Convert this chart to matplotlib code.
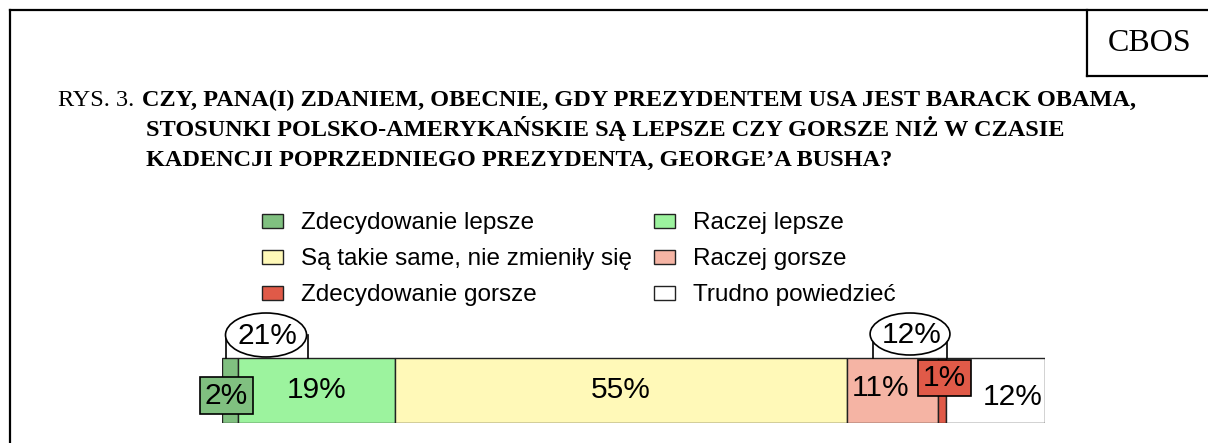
import matplotlib
matplotlib.use("Agg")
import matplotlib.pyplot as plt
from matplotlib.patches import Ellipse
from matplotlib.lines import Line2D
import numpy as np

W, H = 1208, 443
DPI = 100

categories = ["Zdecydowanie lepsze", "Raczej lepsze", "Są takie same, nie zmieniły się",
              "Raczej gorsze", "Zdecydowanie gorsze", "Trudno powiedzieć"]
values = [2, 19, 55, 11, 1, 12]
colors = ["#80C080", "#9CF39E", "#FFF9B8", "#F5B4A4", "#E05A48", "#FFFFFF"]
labels = ["2%", "19%", "55%", "11%", "1%", "12%"]
group_labels = ["21%", "12%"]

title_prefix = "RYS. 3."
title_lines = ["CZY, PANA(I) ZDANIEM, OBECNIE, GDY PREZYDENTEM USA JEST BARACK OBAMA,",
               "STOSUNKI POLSKO-AMERYKAŃSKIE SĄ LEPSZE CZY GORSZE NIŻ W CZASIE",
               "KADENCJI POPRZEDNIEGO PREZYDENTA, GEORGE’A BUSHA?"]

fig = plt.figure(figsize=(W / DPI, H / DPI), dpi=DPI)
fig.patch.set_facecolor("white")

def fx(x):
    return x / W

def fy(y):
    return 1 - y / H

# outer frame and CBOS box
lw = 1.6
fig.add_artist(Line2D([fx(10), fx(10)], [fy(10), fy(443)], color="black", lw=lw))
fig.add_artist(Line2D([fx(10), fx(1208)], [fy(10), fy(10)], color="black", lw=lw))
fig.add_artist(Line2D([fx(1087), fx(1087)], [fy(10), fy(76)], color="black", lw=lw))
fig.add_artist(Line2D([fx(1087), fx(1208)], [fy(76), fy(76)], color="black", lw=lw))
fig.text(fx(1150), fy(51), "CBOS", family="Liberation Serif", fontsize=23,
         ha="center", va="baseline")

# title
tfs = 17.5
fig.text(fx(58), fy(106), title_prefix, family="Liberation Serif", fontsize=tfs,
         ha="left", va="baseline")
fig.text(fx(142), fy(106), title_lines[0], family="Liberation Serif", fontsize=tfs,
         fontweight="bold", ha="left", va="baseline")
fig.text(fx(146), fy(136), title_lines[1], family="Liberation Serif", fontsize=tfs,
         fontweight="bold", ha="left", va="baseline")
fig.text(fx(146), fy(166), title_lines[2], family="Liberation Serif", fontsize=tfs,
         fontweight="bold", ha="left", va="baseline")

# bar axes: x 0..100 -> px 222..1045 ; y px 300..423 -> 123..0
ax = fig.add_axes([fx(222), fy(423), (1045 - 222) / W, (423 - 300) / H])
ax.set_xlim(0, 100)
ax.set_ylim(0, 123)
ax.axis("off")

lefts = np.concatenate([[0], np.cumsum(values)[:-1]])
bars = ax.barh([32.5] * len(values), values, left=lefts, height=65, color=colors,
               edgecolor="#222222", linewidth=1.0)
handles = list(bars)

font = "Liberation Sans"
fs_lab = 21.5
ax.text(lefts[1] + values[1] / 2, 423 - 390, labels[1], ha="center", va="center",
        family=font, fontsize=fs_lab)
ax.text(lefts[2] + values[2] / 2, 423 - 390, labels[2], ha="center", va="center",
        family=font, fontsize=fs_lab)
ax.text(lefts[3] + values[3] / 2 - 1.5, 423 - 388, labels[3], ha="center", va="center",
        family=font, fontsize=fs_lab)
ax.text(lefts[5] + values[5] / 2 + 2.1, 423 - 397, labels[5], ha="center", va="center",
        family=font, fontsize=fs_lab)
ax.text(lefts[0] + values[0] / 2 - 0.45, 423 - 395.5, labels[0], ha="center", va="center",
        family=font, fontsize=fs_lab, zorder=5,
        bbox=dict(boxstyle="square,pad=0.15", facecolor=colors[0], edgecolor="black", lw=1.2))
ax.text(lefts[4] + values[4] / 2 + 0.3, 423 - 378, labels[4], ha="center", va="center",
        family=font, fontsize=fs_lab, zorder=5,
        bbox=dict(boxstyle="square,pad=0.15", facecolor=colors[4], edgecolor="black", lw=1.2))

def group(xl, xr, cx, w, cy, h, txt):
    ax.plot([xl, xl], [65, cy], color="black", lw=1.2, clip_on=False, zorder=3)
    ax.plot([xr, xr], [65, cy], color="black", lw=1.2, clip_on=False, zorder=3)
    e = Ellipse((cx, cy), w, h, facecolor="white", edgecolor="black", lw=1.2,
                clip_on=False, zorder=4)
    ax.add_patch(e)
    ax.text(cx + 0.2, cy - 1, txt, ha="center", va="center", family=font,
            fontsize=fs_lab, zorder=6)

group(0.5, 10.5, 5.35, 9.85, 88, 44, group_labels[0])
group(79.1, 88.1, 83.6, 9.7, 89, 42, group_labels[1])

# legend (row-wise order as in the reference)
order = [0, 2, 4, 1, 3, 5]
fs_leg = 17.5
fig.legend([handles[i] for i in order], [categories[i] for i in order], ncol=2,
           loc="upper left", bbox_to_anchor=(fx(255), fy(205)), frameon=False,
           prop={"family": font, "size": fs_leg},
           handlelength=0.86, handleheight=0.53, handletextpad=0.74,
           columnspacing=0.9, labelspacing=0.58, borderaxespad=0, borderpad=0.3)

fig.savefig("out.png", dpi=DPI, facecolor="white")
